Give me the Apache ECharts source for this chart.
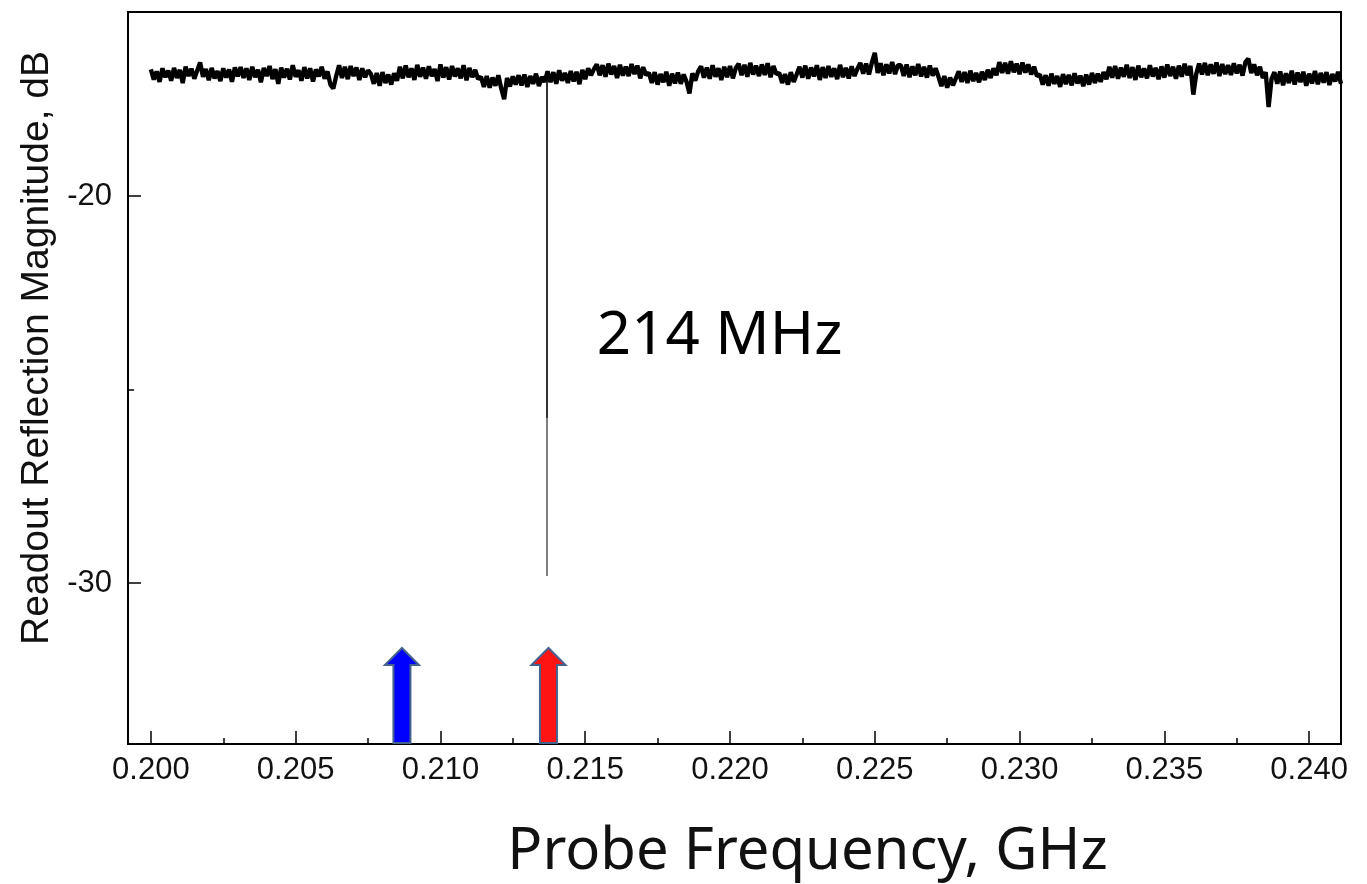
<!DOCTYPE html>
<html>
<head>
<meta charset="utf-8">
<script src="https://cdn.jsdelivr.net/npm/echarts@6/dist/echarts.min.js"></script>
<style>html,body{margin:0;padding:0;background:#fff}#chart{width:1367px;height:884px}</style>
</head>
<body>
<div id="chart"></div>
<script>
// ---- data ----
const sweepStartGHz = 0.2000;
const sweepStepGHz = 0.0001;
const magnitudeDb = [
 -16.73,-16.99,-16.78,-17.05,-16.70,-16.93,-16.76,-17.02,-16.69,-16.95,-16.74,-17.08,-16.66,-16.90,
 -16.71,-16.97,-16.76,-16.55,-16.92,-16.72,-17.01,-16.69,-16.96,-16.77,-17.03,-16.70,-16.94,-16.73,-17.05,-16.68,-16.91,
 -16.67,-16.95,-16.70,-17.00,-16.66,-16.93,-16.74,-17.06,-16.69,-16.90,-16.64,-16.98,-16.72,-17.10,-16.68,-16.94,-16.71,-16.99,-16.62,-16.92,-16.75,-17.02,-16.67,-16.96,-16.70,-17.04,-16.73,-16.91,-16.66,-16.97,-16.78,
 -17.12,-17.22,-16.90,
 -16.62,-16.95,-16.66,-16.98,-16.64,-16.90,-16.68,-17.00,-16.70,-16.93,-16.75,
 -16.85,-17.10,-16.82,-17.15,-16.80,-17.08,-16.86,-17.12,-16.83,-17.02,
 -16.66,-16.96,-16.63,-16.93,-16.70,-17.00,-16.61,-16.92,-16.68,-16.97,-16.65,-16.90,-16.72,-17.03,-16.60,-16.94,-16.67,-16.99,-16.64,-16.91,-16.70,-16.96,-16.62,-17.01,-16.69,-16.93,-16.74,-16.98,
 -16.92,-17.18,-16.90,-17.20,-16.94,-17.15,-16.88,-17.22,-17.50,-16.95,-17.17,-16.91,-17.12,
 -16.88,-17.14,-16.86,-17.18,-16.90,-17.10,-16.84,-17.16,-16.92,-17.05,
 -16.78,-17.06,-16.80,-17.10,-16.75,-17.02,-16.82,-17.08,-16.77,-17.04,-16.79,-17.11,-16.74,-16.98,-16.70,-16.88,-16.72,
 -16.60,-16.88,-16.62,-16.92,-16.58,-16.86,-16.64,-16.95,-16.61,-16.89,-16.66,-16.90,-16.59,-16.85,-16.63,-16.96,-16.67,-16.87,
 -16.82,-17.08,-16.80,-17.12,-16.85,-17.06,-16.79,-17.15,-16.84,-17.09,-16.81,-17.10,-16.86,-17.05,-17.35,-16.83,-17.02,-16.78,
 -16.65,-16.94,-16.68,-16.97,-16.62,-16.92,-16.70,-17.00,-16.66,-16.93,-16.64,-16.96,-16.69,
 -16.58,-16.88,-16.61,-16.92,-16.56,-16.86,-16.63,-16.90,-16.60,-16.87,-16.57,-16.93,-16.64,-16.85,
 -16.82,-17.08,-16.85,-17.12,-16.80,-17.05,-16.86,
 -16.66,-16.94,-16.63,-16.97,-16.68,-16.91,-16.62,-17.00,-16.67,-16.95,-16.64,-16.92,-16.70,-16.98,-16.61,-16.93,-16.69,-16.96,-16.65,-16.90,-16.71,
 -16.56,-16.84,-16.58,-16.86,-16.55,-16.30,-16.82,-16.57,-16.88,-16.60,-16.83,-16.54,-16.85,-16.62,
 -16.62,-16.90,-16.60,-16.93,-16.65,-16.88,-16.59,-16.91,-16.66,-16.94,-16.63,-16.89,-16.70,
 -16.92,-17.16,-16.90,-17.20,-16.94,-17.14,-16.96,
 -16.78,-17.05,-16.80,-17.08,-16.76,-17.03,-16.82,-17.06,-16.79,-17.00,-16.74,-16.95,-16.70,-16.88,
 -16.54,-16.82,-16.56,-16.84,-16.52,-16.80,-16.58,-16.85,-16.55,-16.81,-16.60,-16.86,-16.66,-16.90,
 -16.86,-17.12,-16.88,-17.15,-16.84,-17.10,-16.90,-17.18,-16.85,-17.11,-16.87,-17.14,-16.83,-17.09,-16.89,-17.16,-16.86,-17.12,-16.82,-17.08,-16.84,-17.05,-16.80,-16.98,
 -16.66,-16.94,-16.64,-16.97,-16.68,-16.92,-16.61,-16.95,-16.67,-17.00,-16.63,-16.93,-16.70,-16.96,-16.62,-16.91,-16.69,-16.98,-16.65,-16.94,-16.60,-16.90,-16.66,-16.97,-16.63,-16.92,-16.58,-16.88,-16.64,
 -17.38,-16.85,
 -16.58,-16.86,-16.56,-16.88,-16.60,-16.84,-16.55,-16.90,-16.59,-16.85,-16.62,-16.87,-16.57,-16.83,-16.61,-16.89,-16.54,-16.45,-16.82,-16.60,-16.88,-16.66,-16.95,-16.80,
 -17.70,-16.98,
 -16.80,-17.10,-16.78,-17.14,-16.83,-17.08,-16.76,-17.12,-16.81,-17.06,-16.79,-17.15,-16.84,-17.09,-16.77,-17.11,-16.82,-17.07,-16.80,-17.13,-16.85,-17.04,-16.79,-17.10
];
const resonanceFreqGHz = 0.21368;
const resonanceTopDb = -16.95;
const resonanceMidDb = -25.74;
const resonanceBottomDb = -29.82;
const arrowFreqsGHz = [0.20867, 0.21373];
const arrowTipDb = [-31.68, -31.68];
const arrowColors = ['#0000ff', '#ff1414'];
const xMajorTicks = [0.200, 0.205, 0.210, 0.215, 0.220, 0.225, 0.230, 0.235, 0.240];
const xMinorTicks = [0.2025, 0.2075, 0.2125, 0.2175, 0.2225, 0.2275, 0.2325, 0.2375];
const yMajorTicks = [-20, -30];
const yMinorTicks = [-25];
const xMin = 0.19921, xMax = 0.2411;
const yMin = -34.16, yMax = -15.245;
const annotationText = '214 MHz';
const annotationPos = [0.2154, -23.59];
const xTitle = 'Probe Frequency, GHz';
const yTitle = 'Readout Reflection Magnitude, dB';

// ---- build ----
const trace = magnitudeDb.map((v, i) => [+(sweepStartGHz + i * sweepStepGHz).toFixed(4), v]);
const chart = echarts.init(document.getElementById('chart'), null, {renderer: 'canvas'});
const sans = "'Liberation Sans', Arial, sans-serif";
const tickFont = {fontFamily: sans, fontSize: 31, color: '#111'};

chart.setOption({
  animation: false,
  backgroundColor: '#fff',
  grid: {left: 128, right: 26, top: 12, bottom: 140, show: true, borderColor: '#000', borderWidth: 2,
    backgroundColor: 'transparent', containLabel: false, outerBoundsMode: 'none'},
  xAxis: [{
    type: 'value', min: xMin, max: xMax, position: 'bottom',
    axisLine: {show: true, onZero: false, lineStyle: {color: '#000', width: 2}},
    axisTick: {show: true, inside: true, length: 13, customValues: xMajorTicks, lineStyle: {color: '#000', width: 1.5}},
    axisLabel: Object.assign({show: true, margin: 11, customValues: xMajorTicks, formatter: v => v.toFixed(3)}, tickFont),
    splitLine: {show: false},
    name: xTitle, nameLocation: 'middle', nameGap: 79,
    nameTextStyle: {fontFamily: "'Noto Sans', 'Open Sans', sans-serif", fontSize: 58, color: '#111', padding: [0, 0, 0, 146]}
  }, {
    type: 'value', min: xMin, max: xMax, position: 'bottom',
    axisLine: {show: false, onZero: false},
    axisTick: {show: true, inside: true, length: 6, customValues: xMinorTicks, lineStyle: {color: '#000', width: 1.5}},
    axisLabel: {show: false}, splitLine: {show: false}
  }],
  yAxis: [{
    type: 'value', min: yMin, max: yMax, position: 'left',
    axisLine: {show: true, onZero: false, lineStyle: {color: '#000', width: 2}},
    axisTick: {show: true, inside: true, length: 13, customValues: yMajorTicks, lineStyle: {color: '#000', width: 1.5}},
    axisLabel: Object.assign({show: true, margin: 16, customValues: yMajorTicks}, tickFont),
    splitLine: {show: false},
    name: yTitle, nameLocation: 'middle', nameGap: 71, nameRotate: 90,
    nameTextStyle: {fontFamily: sans, fontSize: 39, color: '#111', padding: [0, 0, 0, 60]}
  }, {
    type: 'value', min: yMin, max: yMax, position: 'left',
    axisLine: {show: false, onZero: false},
    axisTick: {show: true, inside: true, length: 6, customValues: yMinorTicks, lineStyle: {color: '#000', width: 1.5}},
    axisLabel: {show: false}, splitLine: {show: false}
  }],
  series: [
    {
      type: 'line', xAxisIndex: 0, yAxisIndex: 0, data: trace, showSymbol: false, symbol: 'none',
      lineStyle: {color: '#000', width: 4.4, join: 'bevel'}, clip: true, z: 3
    },
    {
      type: 'line', xAxisIndex: 0, yAxisIndex: 0, showSymbol: false, symbol: 'none',
      data: [[resonanceFreqGHz, resonanceTopDb], [resonanceFreqGHz, resonanceMidDb]],
      lineStyle: {color: '#333', width: 2}, z: 2
    },
    {
      type: 'line', xAxisIndex: 0, yAxisIndex: 0, showSymbol: false, symbol: 'none',
      data: [[resonanceFreqGHz, resonanceMidDb], [resonanceFreqGHz, resonanceBottomDb]],
      lineStyle: {color: '#808080', width: 2}, z: 2
    },
    {
      type: 'custom', xAxisIndex: 0, yAxisIndex: 0, z: 4,
      data: arrowFreqsGHz.map((f, i) => [f, arrowTipDb[i], yMin, i]),
      renderItem: function (params, api) {
        const tip = api.coord([api.value(0), api.value(1)]);
        const base = api.coord([api.value(0), api.value(2)]);
        const x = tip[0], ty = tip[1], by = base[1] - 1;
        const sw = 8.5, hw = 17, hh = 17;
        return {
          type: 'polygon',
          shape: {points: [[x - sw, by], [x - sw, ty + hh], [x - hw, ty + hh], [x, ty], [x + hw, ty + hh], [x + sw, ty + hh], [x + sw, by]]},
          style: {fill: arrowColors[api.value(3)], stroke: '#45628f', lineWidth: 2}
        };
      }
    },
    {
      type: 'custom', xAxisIndex: 0, yAxisIndex: 0, z: 5, silent: true,
      data: [annotationPos],
      renderItem: function (params, api) {
        const p = api.coord([api.value(0), api.value(1)]);
        return {
          type: 'text', x: p[0], y: p[1] + 2,
          style: {text: annotationText, fill: '#000', font: "60px 'Noto Sans', 'Open Sans', sans-serif",
            align: 'left', verticalAlign: 'middle'}
        };
      }
    }
  ]
});
</script>
</body>
</html>
